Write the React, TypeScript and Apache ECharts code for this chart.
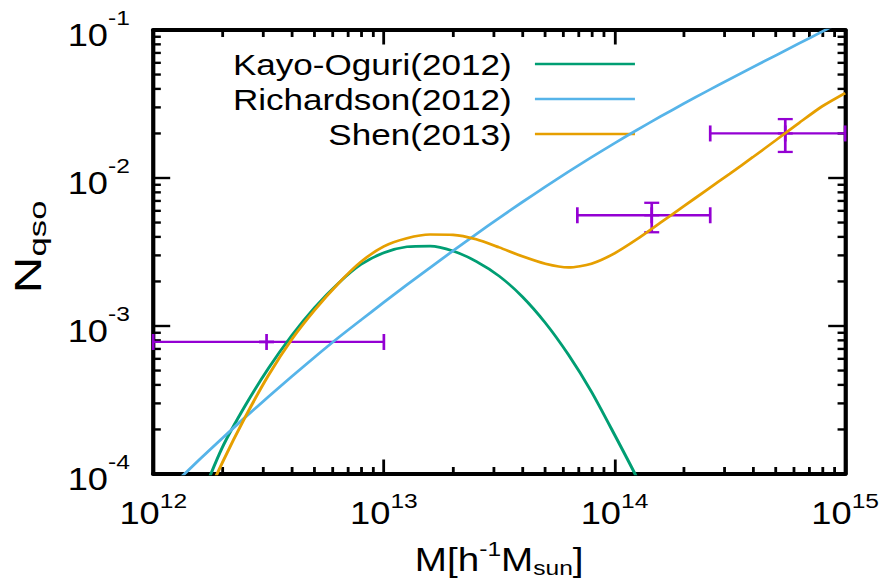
import React, { useEffect, useRef } from "react";
import * as echarts from "echarts";

// The figure is laid out on a 754px-wide canvas and widened to the 882px page.
const PAGE_W = 882;
const PAGE_H = 588;
const CANVAS_W = 754;
const WIDEN = PAGE_W / CANVAS_W;

const FONT = '"Liberation Sans", Arial, Helvetica, sans-serif';

// Axis ranges (log10 scale on both axes)
const MASS_MIN = 1e12;
const MASS_MAX = 1e15;
const N_MIN = 1e-4;
const N_MAX = 1e-1;

// Model curves: [halo mass (h^-1 M_sun), N_qso]
const kayoOguri: [number, number][] = [
  [1.585e12, 6.457e-5],
  [1.995e12, 1.514e-4],
  [2.512e12, 2.917e-4],
  [3.162e12, 5.188e-4],
  [3.981e12, 8.61e-4],
  [5.012e12, 1.334e-3],
  [6.31e12, 1.928e-3],
  [7.943e12, 2.6e-3],
  [1.0e13, 3.126e-3],
  [1.259e13, 3.428e-3],
  [1.585e13, 3.467e-3],
  [1.995e13, 3.214e-3],
  [2.512e13, 2.735e-3],
  [3.162e13, 2.173e-3],
  [3.981e13, 1.581e-3],
  [5.012e13, 1.05e-3],
  [6.31e13, 6.397e-4],
  [7.943e13, 3.597e-4],
  [1.0e14, 1.845e-4],
  [1.259e14, 9.25e-5],
  [1.585e14, 4.365e-5],
];

const richardson: [number, number][] = [
  [1.259e12, 8.87e-5],
  [1.585e12, 1.25e-4],
  [1.995e12, 1.75e-4],
  [2.512e12, 2.427e-4],
  [3.162e12, 3.334e-4],
  [3.981e12, 4.55e-4],
  [5.012e12, 6.166e-4],
  [6.31e12, 8.28e-4],
  [7.943e12, 1.096e-3],
  [1.0e13, 1.445e-3],
  [1.259e13, 1.897e-3],
  [1.585e13, 2.477e-3],
  [1.995e13, 3.221e-3],
  [2.512e13, 4.169e-3],
  [3.162e13, 5.37e-3],
  [3.981e13, 6.871e-3],
  [5.012e13, 8.73e-3],
  [6.31e13, 1.102e-2],
  [7.943e13, 1.38e-2],
  [1.0e14, 1.718e-2],
  [1.259e14, 2.123e-2],
  [1.585e14, 2.606e-2],
  [1.995e14, 3.177e-2],
  [2.512e14, 3.855e-2],
  [3.162e14, 4.656e-2],
  [3.981e14, 5.61e-2],
  [5.012e14, 6.745e-2],
  [6.31e14, 8.11e-2],
  [7.943e14, 9.75e-2],
  [1.0e15, 1.172e-1],
];

const shen: [number, number][] = [
  [1.585e12, 5.47e-5],
  [1.995e12, 1.197e-4],
  [2.512e12, 2.443e-4],
  [3.162e12, 4.656e-4],
  [3.981e12, 8.091e-4],
  [5.012e12, 1.282e-3],
  [6.31e12, 1.919e-3],
  [7.943e12, 2.71e-3],
  [1.0e13, 3.451e-3],
  [1.259e13, 3.917e-3],
  [1.585e13, 4.15e-3],
  [1.995e13, 4.13e-3],
  [2.512e13, 3.855e-3],
  [3.162e13, 3.396e-3],
  [3.981e13, 2.958e-3],
  [5.012e13, 2.636e-3],
  [6.31e13, 2.489e-3],
  [7.943e13, 2.636e-3],
  [1.0e14, 3.097e-3],
  [1.259e14, 3.882e-3],
  [1.585e14, 5.0e-3],
  [1.995e14, 6.442e-3],
  [2.512e14, 8.299e-3],
  [3.162e14, 1.069e-2],
  [3.981e14, 1.384e-2],
  [5.012e14, 1.803e-2],
  [6.31e14, 2.355e-2],
  [7.943e14, 3.048e-2],
  [1.0e15, 3.75e-2],
];

// Measured quasar abundance in mass bins
const qsoMass = [3.1e12, 1.45e14, 5.5e14];
const qsoMassLow = [1e12, 6.9e13, 2.6e14];
const qsoMassHigh = [1e13, 2.6e14, 1e15];
const qsoN = [7.8e-4, 5.6e-3, 2.0e-2];
const qsoNLow = [7.8e-4, 4.3e-3, 1.5e-2];
const qsoNHigh = [7.8e-4, 6.8e-3, 2.5e-2];

const legendNames = ["Kayo-Oguri(2012)", "Richardson(2012)", "Shen(2013)"];
const colors = ["#009E73", "#56B4E9", "#E69F00"];
const PURPLE = "#9400D3";

// Minor tick multipliers inside each decade
const minorSteps = [2, 3, 4, 5, 6, 7, 8, 9];
const massDecades = [12, 13, 14];
const nDecades = [-4, -3, -2];

const GRID = { left: 131, top: 30, width: 591.5, height: 444 };
const CURVE_W = 2.6;

function buildOption(): echarts.EChartsCoreOption {
  const minorTicks: number[][] = [];
  massDecades.forEach((e) =>
    minorSteps.forEach((k) => minorTicks.push([k * Math.pow(10, e), N_MIN, 0]))
  );
  nDecades.forEach((e) =>
    minorSteps.forEach((k) => minorTicks.push([MASS_MIN, k * Math.pow(10, e), 1]))
  );

  const errorData = qsoMass.map((m, i) => [
    m,
    qsoN[i],
    qsoMassLow[i],
    qsoMassHigh[i],
    qsoNLow[i],
    qsoNHigh[i],
  ]);

  const tickLabelRich = {
    b: { fontFamily: FONT, fontSize: 31, color: "#000" },
    s: { fontFamily: FONT, fontSize: 21, color: "#000", padding: [0, 0, 24, 0] },
  };
  const expLabel = (v: number) => `{b|10}{s|${Math.round(Math.log10(v))}}`;

  const axisBase = {
    type: "log" as const,
    logBase: 10,
    axisLine: { show: true, onZero: false, lineStyle: { color: "#000", width: 4 } },
    axisTick: { show: true, inside: true, length: 14.5, lineStyle: { color: "#000", width: 2.4 } },
    splitLine: { show: false },
    minorTick: { show: false },
  };

  const curve = (name: string, data: [number, number][], color: string) => ({
    name,
    type: "line",
    data,
    showSymbol: false,
    smooth: 0.25,
    clip: true,
    lineStyle: { color, width: CURVE_W },
    itemStyle: { color },
    z: 3,
  });

  const seg = (x1: number, y1: number, x2: number, y2: number, stroke: string, lineWidth: number) => ({
    type: "line",
    shape: { x1, y1, x2, y2 },
    style: { stroke, lineWidth },
  });

  const legendX = 437.4;
  const legendLineX1 = 457.3;
  const legendLineX2 = 542.8;
  const legendY0 = 64;
  const legendDY = 35;

  return {
    animation: false,
    backgroundColor: "#fff",
    grid: { ...GRID, containLabel: false, outerBoundsMode: "none" },
    xAxis: [
      {
        ...axisBase,
        position: "bottom",
        min: MASS_MIN,
        max: MASS_MAX,
        axisLabel: {
          show: true,
          margin: 16,
          formatter: expLabel,
          rich: tickLabelRich,
        },
        name: "{b|M[h}{s|-1}{b|M}{u|sun}{b|]}",
        nameLocation: "middle",
        nameGap: 64,
        nameTextStyle: {
          rich: {
            b: { fontFamily: FONT, fontSize: 33, color: "#000" },
            s: { fontFamily: FONT, fontSize: 21, color: "#000", padding: [0, 0, 22, 0] },
            u: { fontFamily: FONT, fontSize: 21, color: "#000", padding: [16, 0, 0, 0] },
          },
        },
      },
      {
        ...axisBase,
        position: "top",
        min: MASS_MIN,
        max: MASS_MAX,
        axisLabel: { show: false },
      },
    ],
    yAxis: [
      {
        ...axisBase,
        position: "left",
        min: N_MIN,
        max: N_MAX,
        axisLine: { show: true, onZero: false, lineStyle: { color: "#000", width: 3.6 } },
        axisLabel: {
          show: true,
          margin: 20,
          formatter: expLabel,
          rich: {
            b: { fontFamily: FONT, fontSize: 31, color: "#000", padding: [9, 0, 0, 0] },
            s: { fontFamily: FONT, fontSize: 21, color: "#000", padding: [0, 0, 24, 0] },
          },
        },
      },
      {
        ...axisBase,
        position: "right",
        min: N_MIN,
        max: N_MAX,
        axisLine: { show: true, onZero: false, lineStyle: { color: "#000", width: 3.6 } },
        axisLabel: { show: false },
      },
    ],
    series: [
      {
        name: "minor ticks",
        type: "custom",
        silent: true,
        clip: false,
        data: minorTicks,
        encode: { x: 0, y: 1 },
        z: 1,
        renderItem: (_p: any, api: any) => {
          const kind = api.value(2);
          if (kind === 0) {
            const v = api.value(0);
            const b = api.coord([v, N_MIN]);
            const t = api.coord([v, N_MAX]);
            return {
              type: "group",
              children: [
                seg(b[0], b[1], b[0], b[1] - 7, "#000", 2.4),
                seg(t[0], t[1], t[0], t[1] + 7, "#000", 2.4),
              ],
            };
          }
          const v = api.value(1);
          const l = api.coord([MASS_MIN, v]);
          const r = api.coord([MASS_MAX, v]);
          return {
            type: "group",
            children: [
              seg(l[0], l[1], l[0] + 6.5, l[1], "#000", 2.4),
              seg(r[0], r[1], r[0] - 6.5, r[1], "#000", 2.4),
            ],
          };
        },
      },
      {
        name: "QSO",
        type: "custom",
        silent: true,
        clip: false,
        data: errorData,
        encode: { x: [0, 2, 3], y: [1, 4, 5] },
        z: 2,
        renderItem: (_p: any, api: any) => {
          const x = api.value(0);
          const y = api.value(1);
          const c = api.coord([x, y]);
          const l = api.coord([api.value(2), y]);
          const r = api.coord([api.value(3), y]);
          const lo = api.coord([x, api.value(4)]);
          const hi = api.coord([x, api.value(5)]);
          const capV = 8;
          const capH = 6.4;
          const w = 2.3;
          return {
            type: "group",
            children: [
              seg(l[0], c[1], r[0], c[1], PURPLE, w),
              seg(l[0], c[1] - capV, l[0], c[1] + capV, PURPLE, w),
              seg(r[0], c[1] - capV, r[0], c[1] + capV, PURPLE, w),
              seg(c[0], lo[1], c[0], hi[1], PURPLE, w),
              seg(c[0] - capH, lo[1], c[0] + capH, lo[1], PURPLE, w),
              seg(c[0] - capH, hi[1], c[0] + capH, hi[1], PURPLE, w),
              // point marker
              seg(c[0] - capH, c[1], c[0] + capH, c[1], PURPLE, w),
              seg(c[0], c[1] - capV, c[0], c[1] + capV, PURPLE, w),
            ],
          };
        },
      },
      curve(legendNames[0], kayoOguri, colors[0]),
      curve(legendNames[1], richardson, colors[1]),
      curve(legendNames[2], shen, colors[2]),
    ],
    graphic: [
      // vertical axis title, drawn elongated along its reading direction
      {
        type: "text",
        x: 24,
        y: 247,
        rotation: Math.PI / 2,
        scaleX: 1.65,
        scaleY: 1,
        style: {
          text: "{b|N}{u|qso}",
          align: "center",
          verticalAlign: "middle",
          textAlign: "center",
          textVerticalAlign: "middle",
          rich: {
            b: { fontFamily: FONT, fontSize: 31, fill: "#000" },
            u: { fontFamily: FONT, fontSize: 21, fill: "#000", padding: [16, 0, 0, 0] },
          },
        },
      },
      ...legendNames.flatMap((name, i) => [
        {
          type: "text",
          x: legendX,
          y: legendY0 + legendDY * i,
          style: {
            text: name,
            font: `30px ${FONT}`,
            fill: "#000",
            align: "right",
            verticalAlign: "middle",
            textAlign: "right",
            textVerticalAlign: "middle",
          },
        },
        {
          type: "line",
          shape: {
            x1: legendLineX1,
            y1: legendY0 + legendDY * i,
            x2: legendLineX2,
            y2: legendY0 + legendDY * i,
          },
          style: { stroke: colors[i], lineWidth: CURVE_W },
        },
      ]),
    ],
  };
}

export default function App() {
  const ref = useRef<HTMLDivElement>(null);

  useEffect(() => {
    document.body.style.margin = "0";
    const el = ref.current;
    if (!el) return;
    const chart = echarts.init(el, null, { renderer: "svg", width: CANVAS_W, height: PAGE_H });
    chart.setOption(buildOption());
    return () => chart.dispose();
  }, []);

  return (
    <div
      style={{
        position: "fixed",
        left: 0,
        top: 0,
        width: PAGE_W,
        height: PAGE_H,
        overflow: "hidden",
        background: "#fff",
      }}
    >
      <div
        ref={ref}
        style={{
          width: CANVAS_W,
          height: PAGE_H,
          transform: `scaleX(${WIDEN})`,
          transformOrigin: "0 0",
        }}
      />
    </div>
  );
}
